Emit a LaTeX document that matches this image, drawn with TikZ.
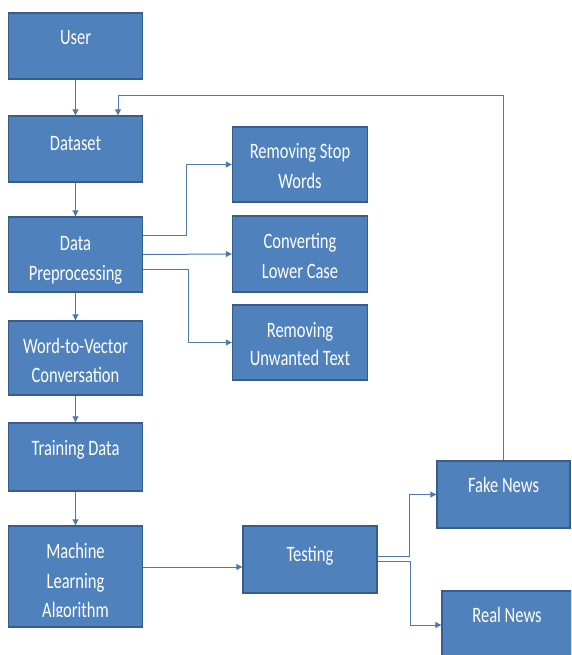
\documentclass[tikz,border=0pt]{standalone}
\usepackage{fontspec}
\usetikzlibrary{arrows.meta}
\newfontfamily\boxfont{Carlito}[FakeStretch=0.75]
\definecolor{boxfill}{RGB}{79,129,189}
\definecolor{boxline}{RGB}{56,93,138}
\definecolor{connline}{RGB}{80,120,170}
\tikzset{
  box/.style={draw=boxline, fill=boxfill, line width=1.4pt, inner sep=0pt},
  txt/.style={text=white, font=\boxfont\fontsize{22}{30}\selectfont, inner sep=0pt, anchor=base},
  arr/.style={draw=connline, line width=1pt, -{Triangle[length=6pt,width=6pt]}},
  conn/.style={draw=connline, line width=1pt}
}
\begin{document}
\begin{tikzpicture}[x=1pt,y=-1pt]
\clip (0,0) rectangle (571,655);
\fill[white] (0,0) rectangle (571,655);
% boxes
\node[box, minimum width=134pt, minimum height=66pt] (user) at (75.5,46) {};
\node[box, minimum width=134pt, minimum height=66pt] (dataset) at (75.5,149) {};
\node[box, minimum width=134pt, minimum height=75pt] (dp) at (75.5,254.5) {};
\node[box, minimum width=134pt, minimum height=74pt] (w2v) at (75.5,358) {};
\node[box, minimum width=134pt, minimum height=68pt] (td) at (75.5,457) {};
\node[box, minimum width=134pt, minimum height=101pt] (ml) at (75.5,576.5) {};
\node[box, minimum width=135pt, minimum height=75pt] (rsw) at (300,164.5) {};
\node[box, minimum width=135pt, minimum height=76pt] (clc) at (300,254) {};
\node[box, minimum width=135pt, minimum height=75pt] (rut) at (300,342.5) {};
\node[box, minimum width=134pt, minimum height=67pt] (testing) at (310,559.5) {};
\node[box, minimum width=133pt, minimum height=67pt] (fake) at (503.5,494.5) {};
\node[box, minimum width=130pt, minimum height=68pt] (real) at (507,625) {};
% texts
\node[txt] (userT) at (75.5,45) {User};
\node[txt] (datasetT) at (75.5,150) {Dataset};
\node[txt] (dpT1) at (75.5,250) {Data};
\node[txt] (dpT2) at (75.5,280) {Preprocessing};
\node[txt] (w2vT1) at (75.5,353) {Word-to-Vector};
\node[txt] (w2vT2) at (75.5,382) {Conversation};
\node[txt] (tdT) at (75.5,455) {Training Data};
\begin{scope}
\clip (8,526) rectangle (143,616.5);
\node[txt] (mlT1) at (75.5,558) {Machine};
\node[txt] (mlT2) at (75.5,588) {Learning};
\node[txt] (mlT3) at (75.5,617) {Algorithm};
\end{scope}
\node[txt] (rswT1) at (300,159) {Removing Stop};
\node[txt] (rswT2) at (300,188) {Words};
\node[txt] (clcT1) at (300,248) {Converting};
\node[txt] (clcT2) at (300,278) {Lower Case};
\node[txt] (rutT1) at (300,337) {Removing};
\node[txt] (rutT2) at (300,365) {Unwanted Text};
\node[txt] (testingT) at (310,561) {Testing};
\node[txt] (fakeT) at (503.5,492) {Fake News};
\node[txt] (realT) at (507,622) {Real News};
% connectors
\draw[arr] (user) -- (dataset);
\draw[arr] (dataset) -- (dp);
\draw[arr] (dp) -- (w2v);
\draw[arr] (w2v) -- (td);
\draw[arr] (td) -- (ml);
\coordinate (fbcorner) at (118,96);
\draw[arr] (fake.north) |- (fbcorner) -- (fbcorner |- dataset.north);
\draw[arr] ([yshift=19.5pt]dp.east) -- ++(43,0) |- (rsw.west);
\draw[arr] (dp.east) -- (clc.west);
\draw[arr] ([yshift=-14.5pt]dp.east) -- ++(45,0) |- (rut.west);
\coordinate (mlout) at ([yshift=9.5pt]ml.east);
\draw[arr] (mlout) -- (mlout -| testing.west);
\draw[arr] ([yshift=3.5pt]testing.east) -- ++(32,0) |- (fake.west);
\draw[arr] ([yshift=-1.5pt]testing.east) -- ++(33,0) |- (real.west);
\end{tikzpicture}
\end{document}
